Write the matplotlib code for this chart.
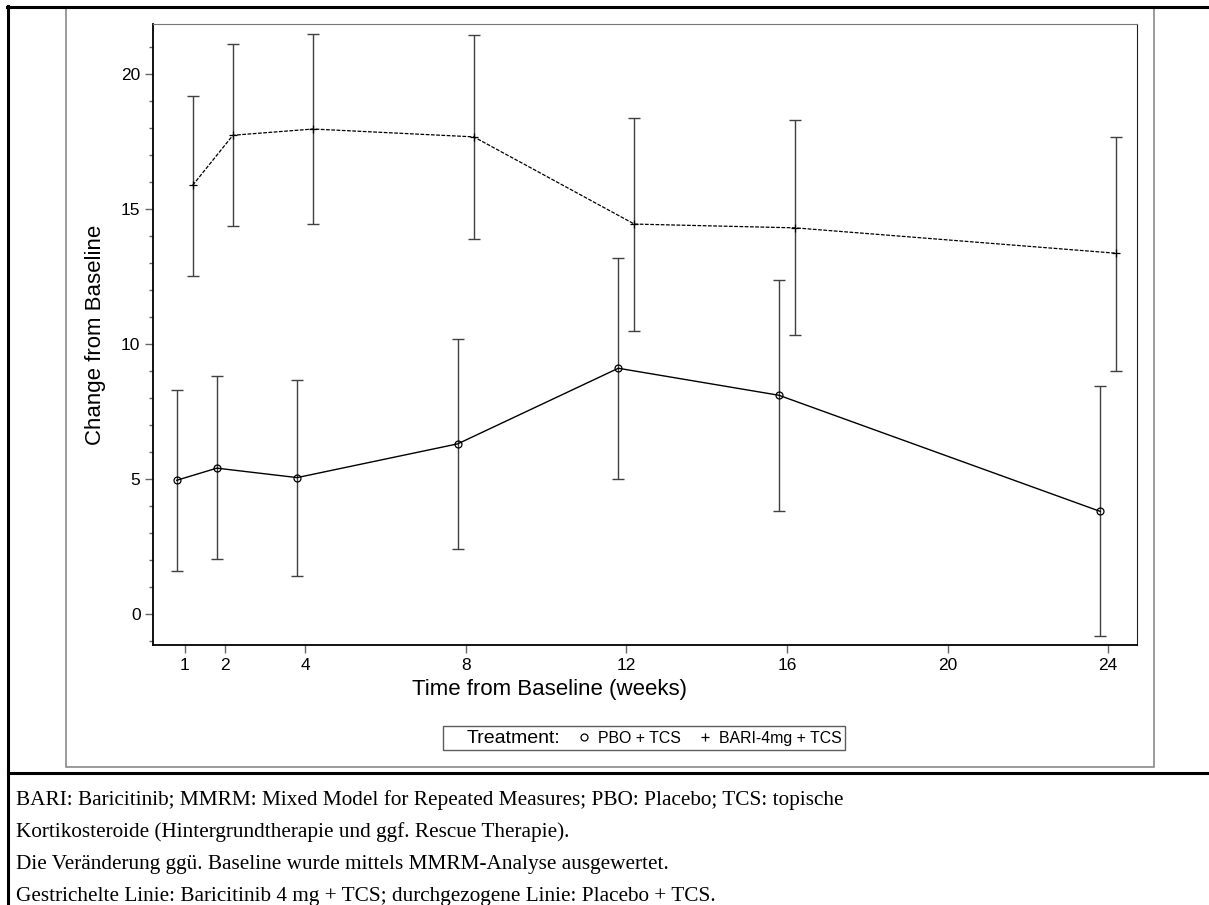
import matplotlib.pyplot as plt
from matplotlib.lines import Line2D
from matplotlib.patches import Rectangle

# week positions and model estimates
weeks = [1, 2, 4, 8, 12, 16, 24]
pbo_mean = [4.95, 5.40, 5.05, 6.30, 9.10, 8.10, 3.80]
pbo_upper = [8.30, 8.80, 8.68, 10.20, 13.20, 12.37, 8.44]
pbo_lower = [1.60, 2.03, 1.42, 2.40, 4.98, 3.82, -0.80]
bari_mean = [15.88, 17.73, 17.96, 17.67, 14.44, 14.30, 13.36]
bari_upper = [19.19, 21.10, 21.48, 21.44, 18.35, 18.31, 17.68]
bari_lower = [12.50, 14.35, 14.44, 13.89, 10.48, 10.33, 9.00]
xticks = [1, 2, 4, 8, 12, 16, 20, 24]
yticks = [0, 5, 10, 15, 20]

footnote = [
    "BARI: Baricitinib; MMRM: Mixed Model for Repeated Measures; PBO: Placebo; TCS: topische",
    "Kortikosteroide (Hintergrundtherapie und ggf. Rescue Therapie).",
    "Die Veränderung ggü. Baseline wurde mittels MMRM-Analyse ausgewertet.",
    "Gestrichelte Linie: Baricitinib 4 mg + TCS; durchgezogene Linie: Placebo + TCS.",
]

W, H = 1209, 905
fig = plt.figure(figsize=(W / 100, H / 100), dpi=100)
plt.rcParams['font.family'] = ['Liberation Sans', 'DejaVu Sans']


def fx(px):
    return px / W


def fy(py):
    return 1 - py / H


# table / frame lines around the picture
fig.add_artist(Rectangle((fx(66), fy(767)), fx(1154 - 66), fy(7) - fy(767),
                         transform=fig.transFigure, fill=False,
                         edgecolor='#8a8a8a', lw=1.2))
fig.add_artist(Line2D([fx(7), 1], [fy(7), fy(7)], color='black', lw=2.2))
fig.add_artist(Line2D([fx(8), fx(8)], [fy(6), 0], color='black', lw=2.2))
fig.add_artist(Line2D([fx(8), 1], [fy(773), fy(773)], color='black', lw=2.2))

AX_L, AX_R, AX_T, AX_B = 153, 1137, 24, 645
ax = fig.add_axes([fx(AX_L), fy(AX_B), fx(AX_R - AX_L), fy(AX_T) - fy(AX_B)])

off = 0.2
xp = [w - off for w in weeks]
xb = [w + off for w in weeks]

ax.errorbar(xp, pbo_mean,
            yerr=[[m - l for m, l in zip(pbo_mean, pbo_lower)],
                  [u - m for m, u in zip(pbo_mean, pbo_upper)]],
            fmt='none', ecolor='#404040', elinewidth=1.0, capsize=4.6,
            capthick=1.0, zorder=2)
ax.errorbar(xb, bari_mean,
            yerr=[[m - l for m, l in zip(bari_mean, bari_lower)],
                  [u - m for m, u in zip(bari_mean, bari_upper)]],
            fmt='none', ecolor='#404040', elinewidth=1.0, capsize=4.6,
            capthick=1.0, zorder=2)
h1, = ax.plot(xp, pbo_mean, color='black', lw=1.0, marker='o', ms=5,
              mfc='none', mec='black', mew=0.9, zorder=3,
              label='PBO + TCS')
h2, = ax.plot(xb, bari_mean, color='black', lw=0.9, ls=(0, (3, 1.2)),
              marker='+', ms=6, mew=0.9, zorder=3,
              label='BARI-4mg + TCS')

ax.set_xlim(0.21, 24.72)
ax.set_ylim(-1.15, 21.85)
ax.set_xticks(xticks)
ax.set_yticks(yticks)
ax.set_yticks(range(-1, 22), minor=True)
ax.tick_params(axis='both', which='major', direction='out', length=6,
               width=1, color='#666666', labelsize=12.5, pad=3)
ax.tick_params(axis='y', which='minor', direction='out', length=3,
               width=1, color='#666666')
for side in ['left', 'bottom']:
    ax.spines[side].set_color('black')
    ax.spines[side].set_linewidth(1.3)
ax.spines['top'].set_color('#777777')
ax.spines['right'].set_color('#222222')

ax.set_xlabel('Time from Baseline (weeks)', fontsize=16)
ax.set_ylabel('Change from Baseline', fontsize=16)
ax.xaxis.set_label_coords((550 - AX_L) / (AX_R - AX_L),
                          (AX_B - 689) / (AX_B - AX_T))
ax.xaxis.label.set_va('center')
ax.yaxis.set_label_coords((95 - AX_L) / (AX_R - AX_L), 0.5)
ax.yaxis.label.set_va('center')

# legend: "Treatment:" as a handle-less first entry
blank = Line2D([], [], color='none')
leg = fig.legend([blank, h1, h2], ['Treatment:', 'PBO + TCS', 'BARI-4mg + TCS'],
                 ncol=3, loc='center', bbox_to_anchor=(fx(644), fy(738)),
                 frameon=True, fancybox=False, edgecolor='#333333',
                 handlelength=0.8, handletextpad=0.5, columnspacing=1.1,
                 borderpad=0.2, fontsize=11.4)
leg.get_frame().set_linewidth(1.0)
leg.get_texts()[0].set_fontsize(14)
for lh in leg.legend_handles[1:]:
    lh.set_linestyle('none')

for i, line in enumerate(footnote):
    fig.text(fx(16), fy(800 + i * 32.2), line, family='Liberation Serif',
             fontsize=15.3, va='center', ha='left')

fig.savefig('out.png', dpi=100)
